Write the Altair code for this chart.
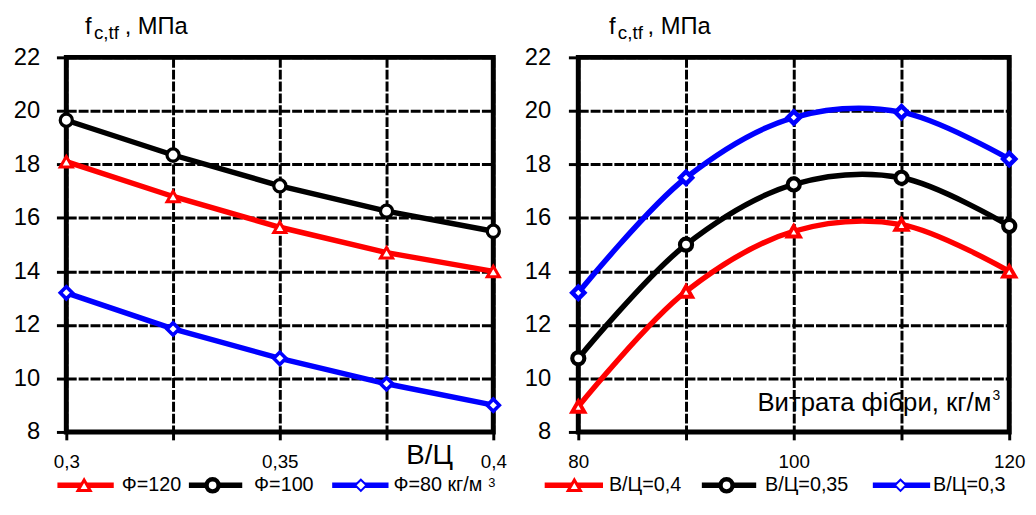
import altair as alt
import pandas as pd

# ---- data ----
wc = [0.3, 0.325, 0.35, 0.375, 0.4]
phi120 = [18.1, 16.8, 15.65, 14.7, 14.0]
phi100 = [19.65, 18.35, 17.2, 16.25, 15.5]
phi80 = [13.2, 11.85, 10.75, 9.8, 9.0]

fiber = [80, 90, 100, 110, 120]
wc04 = [8.95, 13.25, 15.5, 15.75, 14.0]
wc035 = [10.75, 15.0, 17.25, 17.5, 15.7]
wc03 = [13.2, 17.5, 19.75, 19.95, 18.2]

left_names = ["Ф=120", "Ф=100", "Ф=80"]
right_names = ["В/Ц=0,4", "В/Ц=0,35", "В/Ц=0,3"]
y_ticks = [8, 10, 12, 14, 16, 18, 20, 22]

colors = ["#FF0000", "#000000", "#0000FF"]
shapes = ["triangle-up", "circle", "diamond"]
msizes = [150, 150, 130]
mstrokes = [3, 4.5, 2]

FONT = "Liberation Sans"
W_L, W_R, H = 432, 436, 379
LEG_FS = 20
TITLE_FS = 24


def long(xs, names, series):
    rows = []
    for n, vals in zip(names, series):
        for x, v in zip(xs, vals):
            rows.append({"x": x, "y": v, "s": n})
    return pd.DataFrame(rows)


one = pd.DataFrame({"a": [0]})


def txt(label, x, y, size, align="left", baseline="alphabetic"):
    return alt.Chart(one).mark_text(
        align=align, baseline=baseline, fontSize=size, font=FONT, color="black"
    ).encode(x=alt.value(x), y=alt.value(y), text=alt.value(label))


def legend_item(i, x1, x2, xm, y, label, xt):
    c = colors[i]
    rule = alt.Chart(one).mark_rule(color=c, strokeWidth=5.5).encode(
        x=alt.value(x1), x2=alt.value(x2), y=alt.value(y)
    )
    pt = alt.Chart(one).mark_point(
        shape=shapes[i], size=msizes[i], stroke=c, strokeWidth=mstrokes[i],
        fill="white", fillOpacity=1, opacity=1
    ).encode(x=alt.value(xm), y=alt.value(y))
    return [rule, pt, txt(label, xt, y, LEG_FS, baseline="middle")]


def panel(df, names, xdom, xticks, label_expr, width, interp, lpad, extras):
    sc = lambda rng: alt.Scale(domain=names, range=rng)
    grid = dict(grid=True, gridColor="black", gridWidth=3, gridDash=[10, 2], gridOpacity=1,
                tickColor="black", tickWidth=3, tickOpacity=1, labelColor="black",
                labelFont=FONT, domain=False, title=None, labelFlush=False)
    xenc = alt.X(
        "x:Q",
        scale=alt.Scale(domain=xdom, nice=False, zero=False),
        axis=alt.Axis(values=xticks, labelExpr=label_expr, tickSize=8,
                      labelFontSize=19, labelPadding=13, **grid),
    )
    yenc = alt.Y(
        "y:Q",
        scale=alt.Scale(domain=[8, 22], nice=False, zero=False),
        axis=alt.Axis(values=y_ticks, tickSize=10, labelFontSize=24,
                      labelPadding=lpad, **grid),
    )
    lines = alt.Chart(df).mark_line(strokeWidth=5.5, interpolate=interp).encode(
        x=xenc, y=yenc,
        color=alt.Color("s:N", scale=sc(colors), legend=None),
        detail="s:N",
    )
    pts = alt.Chart(df).mark_point(fill="white", fillOpacity=1, opacity=1).encode(
        x="x:Q", y="y:Q",
        stroke=alt.Stroke("s:N", scale=sc(colors), legend=None),
        shape=alt.Shape("s:N", scale=sc(shapes), legend=None),
        size=alt.Size("s:N", scale=sc(msizes), legend=None),
        strokeWidth=alt.StrokeWidth("s:N", scale=sc(mstrokes), legend=None),
    )
    return alt.layer(lines, pts, *extras).properties(width=width, height=H)


left_df = long(wc, left_names, [phi120, phi100, phi80])
right_df = long(fiber, right_names, [wc04, wc035, wc03])

LY = 433
left_extras = (
    [txt("f", 19, -24, TITLE_FS), txt("c,tf", 28, -19, 19), txt(", МПа", 59, -24, TITLE_FS),
     txt("В/Ц", 344, 411, 28)]
    + legend_item(0, -9, 48, 18, LY, "Ф=120", 56)
    + legend_item(1, 124, 178, 148, LY, "Ф=100", 190)
    + legend_item(2, 269, 326, 298, LY, "Ф=80 кг/м", 331)
    + [txt("3", 427, 435, 13)]
)
right_extras = (
    [txt("f", 31, -24, TITLE_FS), txt("c,tf", 40, -19, 19), txt(", МПа", 70, -24, TITLE_FS),
     txt("Витрата фібри, кг/м", 418, 358, 26, align="right"), txt("3", 419, 347, 14)]
    + legend_item(0, -34, 25, -4, LY, "В/Ц=0,4", 31)
    + legend_item(1, 125, 180, 150, LY, "В/Ц=0,35", 189)
    + legend_item(2, 298, 356, 326, LY, "В/Ц=0,3", 359)
)

left = panel(
    left_df, left_names, [0.3, 0.4], wc,
    "abs(datum.value-0.325)<0.001 || abs(datum.value-0.375)<0.001 ? '' : replace(format(datum.value, '.2~f'), '.', ',')",
    W_L, "linear", 17, left_extras,
)
right = panel(
    right_df, right_names, [80, 120], fiber,
    "datum.value==90 || datum.value==110 ? '' : datum.label",
    W_R, "catmull-rom", 18, right_extras,
)

chart = (
    alt.hconcat(left, right, spacing=86, bounds="flush")
    .properties(padding={"left": 2, "top": 1, "right": 0, "bottom": 0}, background="white")
    .configure_view(stroke="black", strokeWidth=5)
)

chart.save("out.html", embed_options={"renderer": "svg", "actions": False})
